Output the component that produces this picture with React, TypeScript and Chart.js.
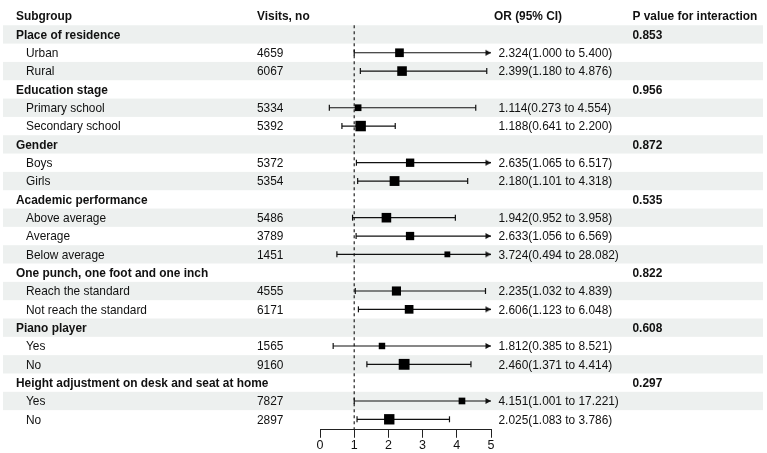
import React, { useEffect, useRef } from "react";
import { Chart, registerables } from "chart.js";

Chart.register(...registerables);

// ---- table / forest data (row 0 is the column header) ----
const rowLabels = [
  "Place of residence",
  "Urban",
  "Rural",
  "Education stage",
  "Primary school",
  "Secondary school",
  "Gender",
  "Boys",
  "Girls",
  "Academic performance",
  "Above average",
  "Average",
  "Below average",
  "One punch, one foot and one inch",
  "Reach the standard",
  "Not reach the standard",
  "Piano player",
  "Yes",
  "No",
  "Height adjustment on desk and seat at home",
  "Yes",
  "No",
];

const isGroup = [
  true, false, false,
  true, false, false,
  true, false, false,
  true, false, false, false,
  true, false, false,
  true, false, false,
  true, false, false,
];

const visits: (number | null)[] = [
  null, 4659, 6067,
  null, 5334, 5392,
  null, 5372, 5354,
  null, 5486, 3789, 1451,
  null, 4555, 6171,
  null, 1565, 9160,
  null, 7827, 2897,
];

const oddsRatio: (number | null)[] = [
  null, 2.324, 2.399,
  null, 1.114, 1.188,
  null, 2.635, 2.18,
  null, 1.942, 2.633, 3.724,
  null, 2.235, 2.606,
  null, 1.812, 2.46,
  null, 4.151, 2.025,
];

const ciLower: (number | null)[] = [
  null, 1.0, 1.18,
  null, 0.273, 0.641,
  null, 1.065, 1.101,
  null, 0.952, 1.056, 0.494,
  null, 1.032, 1.123,
  null, 0.385, 1.371,
  null, 1.001, 1.083,
];

const ciUpper: (number | null)[] = [
  null, 5.4, 4.876,
  null, 4.554, 2.2,
  null, 6.517, 4.318,
  null, 3.958, 6.569, 28.082,
  null, 4.839, 6.048,
  null, 8.521, 4.414,
  null, 17.221, 3.786,
];

const pInteraction: (string | null)[] = [
  "0.853", null, null,
  "0.956", null, null,
  "0.872", null, null,
  "0.535", null, null, null,
  "0.822", null, null,
  "0.608", null, null,
  "0.297", null, null,
];

const headers = ["Subgroup", "Visits, no", "OR (95% CI)", "P value for interaction"];
const xTicks = [0, 1, 2, 3, 4, 5];
const referenceOR = 1;

// ---- styling ----
const FONT_FAMILY = '"Liberation Sans", Arial, Helvetica, sans-serif';
const FONT_SIZE = 11.9;
const TEXT_COLOR = "#111";
const STRIPE_COLOR = "#edf0ef";
const LINE_COLOR = "#111";
const Y_MIN = -0.46;
const Y_MAX = 22.57;

const fmt = (v: number) => v.toFixed(3);

function makeArrowHead(): HTMLCanvasElement {
  // tip sits at the exact centre of the image so it lands on the axis limit
  const c = document.createElement("canvas");
  c.width = 14;
  c.height = 8;
  const g = c.getContext("2d")!;
  g.fillStyle = LINE_COLOR;
  g.beginPath();
  g.moveTo(7, 4);
  g.lineTo(1.5, 1);
  g.lineTo(1.5, 7);
  g.closePath();
  g.fill();
  return c;
}

const tablePlugin = {
  id: "forestTable",
  beforeDraw(chart: any) {
    const { ctx } = chart;
    const y = chart.scales.y;
    ctx.save();
    ctx.fillStyle = STRIPE_COLOR;
    for (let r = 1; r <= rowLabels.length; r += 2) {
      const a = y.getPixelForValue(r - 0.5);
      const b = y.getPixelForValue(r + 0.5);
      ctx.fillRect(3, Math.min(a, b), 760, Math.abs(b - a));
    }
    ctx.restore();
  },
  afterDraw(chart: any) {
    const { ctx } = chart;
    const y = chart.scales.y;
    ctx.save();
    ctx.fillStyle = TEXT_COLOR;
    ctx.textBaseline = "alphabetic";
    ctx.textAlign = "left";
    const put = (s: string, x: number, row: number, bold: boolean) => {
      ctx.font = `${bold ? "bold " : ""}${FONT_SIZE}px ${FONT_FAMILY}`;
      ctx.fillText(s, x, y.getPixelForValue(row) + FONT_SIZE * 0.36);
    };
    put(headers[0], 16, 0, true);
    put(headers[1], 257, 0, true);
    put(headers[2], 494, 0, true);
    put(headers[3], 632.5, 0, true);
    rowLabels.forEach((label, i) => {
      const row = i + 1;
      put(label, isGroup[i] ? 16 : 26, row, isGroup[i]);
      const v = visits[i];
      if (v !== null) put(String(v), 257, row, false);
      const or = oddsRatio[i];
      const lo = ciLower[i];
      const hi = ciUpper[i];
      if (or !== null && lo !== null && hi !== null) {
        put(`${fmt(or)}(${fmt(lo)} to ${fmt(hi)})`, 498.5, row, false);
      }
      const p = pInteraction[i];
      if (p !== null) put(p, 632.5, row, true);
    });
    ctx.restore();
  },
};

export default function App() {
  const canvasRef = useRef<HTMLCanvasElement | null>(null);

  useEffect(() => {
    const canvas = canvasRef.current;
    if (!canvas) return;
    const arrowHead = makeArrowHead();
    const xMax = xTicks[xTicks.length - 1];
    const xMin = xTicks[0];

    const markers: any[] = [];
    const markerRadius: number[] = [];
    const ciSets: any[] = [];

    rowLabels.forEach((_, i) => {
      const or = oddsRatio[i];
      const lo = ciLower[i];
      const hi = ciUpper[i];
      if (or === null || lo === null || hi === null) return;
      const row = i + 1;
      // square size follows study precision (1 / standard error of log OR)
      const se = Math.log(hi / lo) / 3.92;
      const side = 3.8 + 2.1 / se;
      markers.push({ x: or, y: row });
      markerRadius.push(side / Math.SQRT2);
      ciSets.push({
        type: "scatter",
        showLine: true,
        data: [
          { x: Math.max(lo, xMin), y: row, end: "cap" },
          { x: Math.min(hi, xMax), y: row, end: hi > xMax ? "arrow" : "cap" },
        ],
        borderColor: LINE_COLOR,
        borderWidth: 1.2,
        pointRadius: 3,
        pointBorderWidth: 1.2,
        pointBorderColor: LINE_COLOR,
        pointBackgroundColor: LINE_COLOR,
        pointStyle: (c: any) => (c.raw && c.raw.end === "arrow" ? arrowHead : "line"),
        pointRotation: (c: any) => (c.raw && c.raw.end === "arrow" ? 0 : 90),
        clip: false,
        order: 2,
      });
    });

    const chart = new Chart(canvas, {
      type: "scatter",
      data: {
        datasets: [
          {
            data: markers,
            pointStyle: "rect",
            pointRadius: markerRadius,
            pointBackgroundColor: "#000",
            pointBorderWidth: 0,
            clip: false,
            order: 1,
          } as any,
          ...ciSets,
          {
            type: "scatter",
            showLine: true,
            data: [
              { x: referenceOR, y: 0.5 },
              { x: referenceOR, y: Y_MAX },
            ],
            borderColor: "#222",
            borderWidth: 1.2,
            borderDash: [3, 3],
            pointRadius: 0,
            clip: false,
            order: 3,
          } as any,
        ],
      },
      options: {
        responsive: false,
        maintainAspectRatio: false,
        animation: false,
        devicePixelRatio: 1,
        events: [],
        layout: { padding: { left: 320, right: 276, top: 0, bottom: 0 } },
        plugins: {
          legend: { display: false },
          tooltip: { enabled: false },
          title: { display: false },
        },
        scales: {
          x: {
            type: "linear",
            min: xMin,
            max: xMax,
            afterBuildTicks: (scale: any) => {
              scale.ticks = xTicks.map((v) => ({ value: v }));
            },
            ticks: {
              color: TEXT_COLOR,
              padding: 2,
              font: { family: FONT_FAMILY, size: 12.5, lineHeight: 0.9 },
            },
            grid: {
              drawOnChartArea: false,
              drawTicks: true,
              tickLength: 8,
              color: "#222",
            },
            border: { display: true, color: "#222", width: 1 },
          },
          y: {
            type: "linear",
            display: false,
            reverse: true,
            min: Y_MIN,
            max: Y_MAX,
          },
        },
      },
      plugins: [tablePlugin],
    } as any);

    return () => chart.destroy();
  }, []);

  return (
    <div style={{ position: "absolute", left: 0, top: 0, width: 767, height: 453, background: "#fff" }}>
      <canvas ref={canvasRef} width={767} height={453} style={{ width: 767, height: 453, display: "block" }} />
    </div>
  );
}
